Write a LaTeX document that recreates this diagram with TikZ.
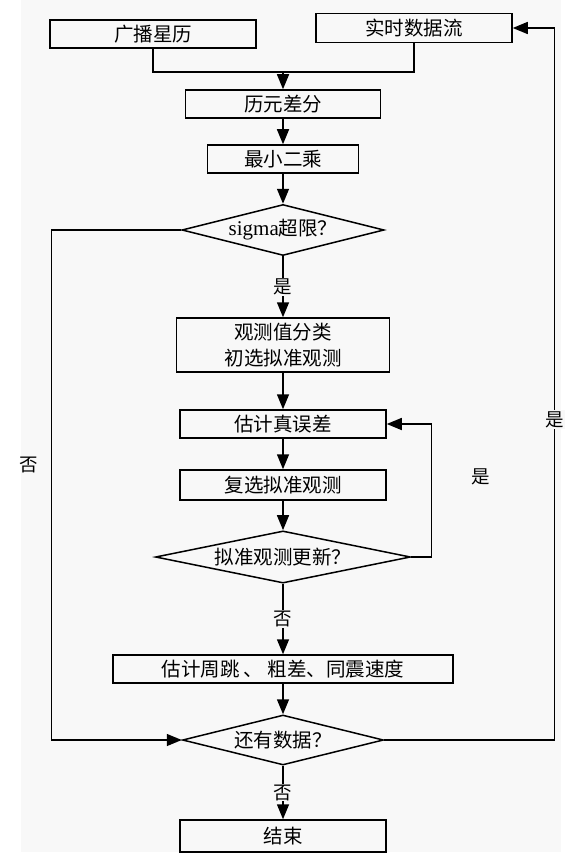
\documentclass[tikz,border=0pt]{standalone}
\usepackage{fontspec}
\setmainfont{Liberation Serif}
\newfontfamily\cjk{Noto Sans CJK SC}
\usetikzlibrary{shapes.geometric, arrows.meta, positioning}
\definecolor{pagegray}{RGB}{248,248,248}

\tikzset{
  procbox/.style={draw, line width=1.5pt, minimum height=28pt, inner sep=2pt, font=\cjk\fontsize{19.5}{26}\selectfont},
  decide/.style={draw, diamond, line width=1.5pt, inner sep=0pt, aspect=4, font=\cjk\fontsize{19.5}{22}\selectfont},
  flow/.style={line width=1.5pt, -{Triangle[width=12pt,length=15pt]}},
  link/.style={line width=1.5pt},
  tag/.style={font=\cjk\fontsize{18.5}{20}\selectfont, fill=pagegray, inner sep=1pt}
}

\begin{document}
\begin{tikzpicture}[x=1pt, y=-1pt]
  \useasboundingbox (0,0) rectangle (578,861);
  \fill[pagegray] (21,0) rectangle (561,852);

  % input boxes
  \node[procbox, minimum width=206pt] (gb) at (153,34) {广播星历};
  \node[procbox, minimum width=196pt, minimum height=29pt] (ss) at (414,28) {实时数据流};
  \coordinate (join) at (283,72);

  % main flow
  \node[procbox, minimum width=195pt] (ly) at (283,104) {历元差分};
  \node[procbox, minimum width=151pt] (zx) at (283,159) {最小二乘};
  \node[decide, minimum width=202pt, minimum height=51pt] (sg) at (283,230) {{\rmfamily\fontsize{21}{22}\selectfont sigma}超限？};
  \node[procbox, minimum width=213pt, minimum height=54pt, align=center] (cls) at (283,345) {观测值分类\\初选拟准观测};
  \node[procbox, minimum width=206pt] (gj) at (283,424) {估计真误差};
  \node[procbox, minimum width=206pt, minimum height=30pt] (fx) at (283,485) {复选拟准观测};
  \node[decide, minimum width=255pt, minimum height=52pt] (gx) at (283,557) {拟准观测更新？};
  \node[procbox, minimum width=340pt] (zt) at (283,669) {估计周跳 、 粗差、同震速度};
  \node[decide, minimum width=201pt, minimum height=50pt] (more) at (283,740) {还有数据？};
  \node[procbox, minimum width=206pt, minimum height=32pt] (end) at (283,836) {结束};

  % connectors
  \draw[link] (gb.south) |- (join) -| (ss.south);
  \draw[flow] (join) -- (ly);
  \draw[flow] (ly) -- (zx);
  \draw[flow] (zx) -- (sg);
  \draw[flow] (sg) -- node[tag] {是} (cls);
  \draw[flow] (cls) -- (gj);
  \draw[flow] (gj) -- (fx);
  \draw[flow] (fx) -- (gx);
  \draw[flow] (gx.east) -- ++(20,0) |- node[tag, fill=none, pos=0.3, right=38pt] {是} (gj.east);
  \draw[flow] (gx) -- node[tag] {否} (zt);
  \draw[flow] (zt) -- (more);
  \draw[flow] (sg.west) -- ++(-130,0) |- node[tag, fill=none, pos=0.23, left=12pt] {否} (more.west);
  \draw[flow] (more.east) -- ++(170,0) |- node[tag, pos=0.225] {是} (ss.east);
  \draw[flow] (more) -- node[tag] {否} (end);
\end{tikzpicture}
\end{document}
